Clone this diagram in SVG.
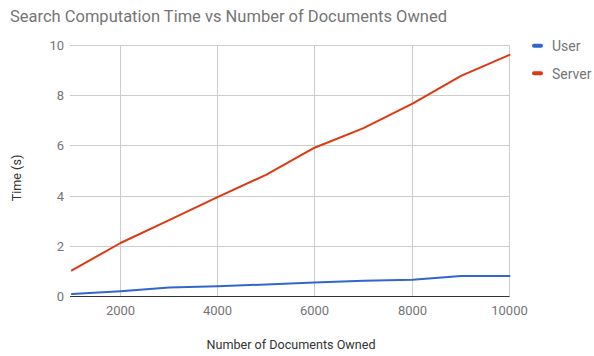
<svg xmlns="http://www.w3.org/2000/svg" width="594" height="356" viewBox="0 0 594 356">
  <style>
    text { font-family: Roboto, "Liberation Sans", Arial, sans-serif; }
    .title { fill: #757575; }
    .tick { font-size: 13px; fill: #757575; }
    .axis-title { font-size: 12.6px; fill: #333333; }
    .legend { font-size: 14px; fill: #757575; }
    .grid line { stroke: #cccccc; stroke-width: 1; }
    .series { fill: none; stroke-width: 2; stroke-linejoin: round; stroke-linecap: round; }
  </style>
  <rect width="594" height="356" fill="#ffffff"/>

  <text class="title" x="10" y="22" font-size="16.6" textLength="437" lengthAdjust="spacingAndGlyphs">Search Computation Time vs Number of Documents Owned</text>

  <!-- gridlines -->
  <g class="grid">
    <line x1="70" y1="45.5" x2="509.5" y2="45.5"/>
    <line x1="70" y1="95.5" x2="509.5" y2="95.5"/>
    <line x1="70" y1="145.5" x2="509.5" y2="145.5"/>
    <line x1="70" y1="196.5" x2="509.5" y2="196.5"/>
    <line x1="70" y1="246.5" x2="509.5" y2="246.5"/>
    <line x1="120.5" y1="45.5" x2="120.5" y2="296.5"/>
    <line x1="217.5" y1="45.5" x2="217.5" y2="296.5"/>
    <line x1="314.5" y1="45.5" x2="314.5" y2="296.5"/>
    <line x1="412.5" y1="45.5" x2="412.5" y2="296.5"/>
    <line x1="509.5" y1="45.5" x2="509.5" y2="296.5"/>
  </g>
  <!-- baseline -->
  <line x1="70" y1="296.5" x2="509.5" y2="296.5" stroke="#333333" stroke-width="1"/>

  <!-- y tick labels -->
  <g class="tick" text-anchor="end">
    <text x="64" y="50">10</text>
    <text x="64" y="100">8</text>
    <text x="64" y="150">6</text>
    <text x="64" y="201">4</text>
    <text x="64" y="251">2</text>
    <text x="64" y="301">0</text>
  </g>
  <!-- x tick labels -->
  <g class="tick" text-anchor="middle">
    <text x="120.5" y="315">2000</text>
    <text x="217.5" y="315">4000</text>
    <text x="314.5" y="315">6000</text>
    <text x="412.5" y="315">8000</text>
    <text x="509.5" y="315">10000</text>
  </g>

  <text class="axis-title" x="291" y="349" text-anchor="middle">Number of Documents Owned</text>
  <text class="axis-title" transform="translate(21,178) rotate(-90)" text-anchor="middle">Time (s)</text>

  <!-- data series -->
  <g id="series">
    <polyline id="server" class="series" stroke="#dc3912" points="71.9,270.4 120.5,243.0 169.1,220.2 217.5,197.1 266.0,174.8 314.5,147.7 363.5,128.1 412.5,103.7 461.0,75.9 509.5,54.8"/>
    <polyline id="user" class="series" stroke="#3366cc" points="71.9,294.0 120.5,291.2 169.1,287.5 217.5,286.2 266.0,284.5 314.5,282.4 363.5,280.7 412.5,279.7 461.0,275.9 509.5,275.9"/>
  </g>

  <!-- legend -->
  <g id="legend-user">
    <rect x="532" y="43.7" width="11" height="4" rx="2" fill="#3366cc"/>
    <text class="legend" x="552" y="50.5">User</text>
  </g>
  <g id="legend-server">
    <rect x="532" y="71.3" width="11" height="4" rx="2" fill="#dc3912"/>
    <text class="legend" x="552" y="78.5">Server</text>
  </g>
</svg>
